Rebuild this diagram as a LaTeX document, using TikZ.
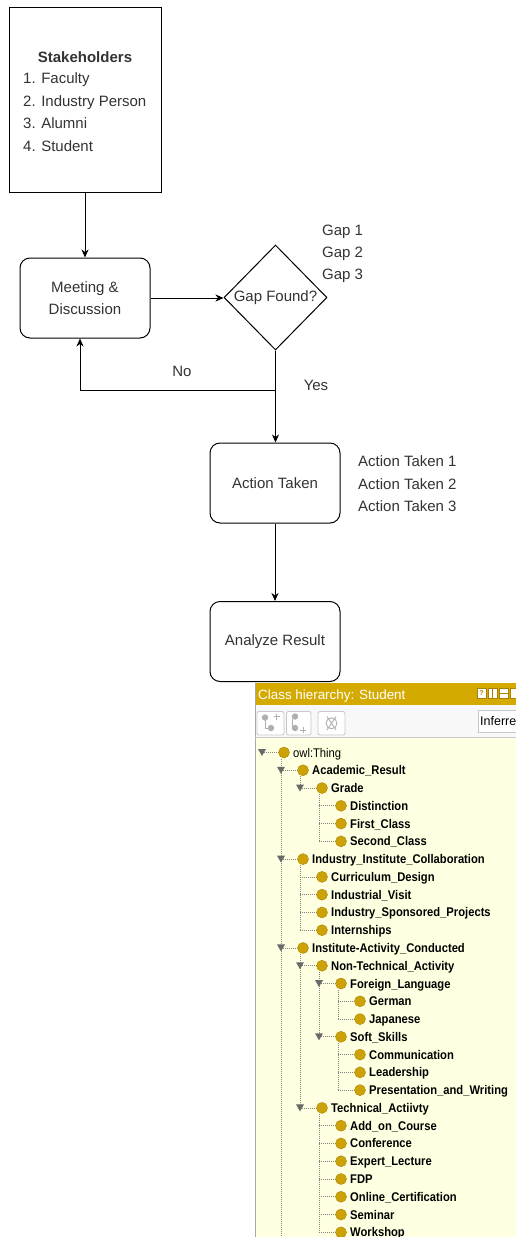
\documentclass[tikz,border=0pt]{standalone}
\usepackage{fontspec}
\setmainfont{Liberation Sans}
\newfontfamily\treefont[FakeStretch=0.89]{Liberation Sans}
\usetikzlibrary{shapes.geometric,arrows.meta}
\definecolor{txt}{RGB}{51,51,51}
\definecolor{hdrgold}{RGB}{212,170,0}
\definecolor{owl}{RGB}{204,162,8}
\definecolor{owldark}{RGB}{170,130,0}
\definecolor{treebg}{RGB}{255,255,225}
\definecolor{toolbg}{RGB}{248,248,248}
\definecolor{dotgrey}{RGB}{130,130,130}
\definecolor{toggrey}{RGB}{105,105,105}
\definecolor{btnborder}{RGB}{200,200,200}
\definecolor{icongrey}{RGB}{175,175,175}
\definecolor{panelborder}{RGB}{170,170,170}
\begin{document}
\begin{tikzpicture}[x=1pt,y=-1pt,
  flowtext/.style={font=\fontsize{15}{22.5}\selectfont, text=txt},
  roundbox/.style={flowtext, draw=black, line width=1pt, rounded corners=10pt,
    minimum width=130pt, minimum height=80pt, align=center, inner sep=0pt},
  sharpbox/.style={draw=black, line width=1pt, minimum width=152pt,
    minimum height=185pt, inner sep=0pt},
  decision/.style={flowtext, diamond, draw=black, line width=1pt,
    minimum width=103pt, minimum height=105pt, inner sep=0pt},
  flowarrow/.style={draw=black, line width=1pt,
    -{Stealth[length=8pt,width=7pt,inset=2.5pt]}},
  sidelbl/.style={flowtext, anchor=base west, inner sep=0pt},
  midlbl/.style={flowtext, anchor=base, inner sep=0pt},
  treedots/.style={draw=dotgrey, line width=0.8pt, dash pattern=on 1pt off 1pt},
  owlball/.style={circle, fill=owl, draw=owldark, line width=0.4pt,
    minimum size=11pt, inner sep=0pt},
  treelbl/.style={font=\treefont\fontsize{12.6}{14}\selectfont\bfseries,
    anchor=base west, inner sep=0pt, text=black},
  toolbtn/.style={draw=btnborder, fill=white, line width=0.8pt, rounded corners=2pt},
  hdricon/.style={draw=owldark, fill=white, line width=0.6pt}
]
\clip (0,0) rectangle (516,1237);
\fill[white] (0,0) rectangle (516,1237);

% ---------------- flowchart ----------------
\node[sharpbox] (stake) at (85,99.5) {};
\node[midlbl] (sttitle) at (85,62.3) {\bfseries Stakeholders};
\node[sidelbl] (st1) at (23,83.3) {1. Faculty};
\node[sidelbl] (st2) at (23,106) {2. Industry Person};
\node[sidelbl] (st3) at (23,128.7) {3. Alumni};
\node[sidelbl] (st4) at (23,151.4) {4. Student};

\node[roundbox] (meet) at (85,298) {Meeting \&\\Discussion};
\node[decision] (gap) at (275.5,297.5) {Gap Found?};
\node[roundbox] (act) at (275,483) {Action Taken};
\node[roundbox] (ana) at (275,641.5) {Analyze Result};

\node[sidelbl] (gap1) at (322,235) {Gap 1};
\node[sidelbl] (gap2) at (322,257) {Gap 2};
\node[sidelbl] (gap3) at (322,279) {Gap 3};

\node[sidelbl] (act1) at (358,466.7) {Action Taken 1};
\node[sidelbl] (act2) at (358,489) {Action Taken 2};
\node[sidelbl] (act3) at (358,511) {Action Taken 3};

\node[midlbl] (nolbl) at (182,376.7) {No};
\node[midlbl] (yeslbl) at (316,390) {Yes};

\draw[flowarrow] (stake.south) -- (meet.north);
\draw[flowarrow] (meet.east) -- (meet.east -| gap.west);
\draw[flowarrow] (gap.south) -- (gap.south |- act.north);
\coordinate (nojoin) at (275.5,390);
\draw[flowarrow] (nojoin) -| ([xshift=-5pt]meet.south);
\draw[flowarrow] (act.south) -- (ana.north);

% ---------------- class hierarchy panel ----------------
\fill[treebg] (255,737) rectangle (516,1237);
\fill[toolbg] (255,705) rectangle (516,737);
\fill[hdrgold] (255,683) rectangle (516,705);
\draw[panelborder, line width=0.8pt] (255.5,683) -- (255.5,1237);
\draw[btnborder, line width=0.6pt] (255,737) -- (516,737);

\node[anchor=base west, inner sep=0pt, text=white,
  font=\fontsize{13.4}{15}\selectfont] (hdr) at (258,699.5) {Class hierarchy: Student};

% header icons
\draw[hdricon] (477,688.5) rectangle (486,698.5);
\node[inner sep=0pt, font=\bfseries\fontsize{7}{8}\selectfont, text=owldark] (helpq) at (481.5,693.5) {?};
\draw[hdricon] (488,688.5) rectangle (497,698.5);
\draw[owldark, line width=1.2pt] (492.5,688.5) -- (492.5,698.5);
\draw[hdricon] (499,688.5) rectangle (508,698.5);
\draw[owldark, line width=1pt] (499,693.5) -- (508,693.5);
\draw[hdricon] (510,688.5) rectangle (519,698.5);

% toolbar buttons
\draw[toolbtn] (257,711.5) rectangle (284,735);
\fill[icongrey] (265,717.5) circle (3.2pt);
\fill[icongrey] (271,728) circle (3.2pt);
\draw[icongrey, line width=1pt] (265,720) -- (265,728) -- (268,728);
\draw[icongrey, line width=1pt] (273.5,716.5) -- (279.5,716.5) (276.5,713.5) -- (276.5,719.5);

\draw[toolbtn] (286.5,711.5) rectangle (311,735);
\fill[icongrey] (295,716.5) circle (3.2pt);
\fill[icongrey] (295,728) circle (3.2pt);
\draw[icongrey, line width=1pt] (292,719) -- (292,728);
\draw[icongrey, line width=1pt] (300,730) -- (306,730) (303,727) -- (303,733);

\draw[toolbtn] (318,711.5) rectangle (345,735);
\draw[icongrey, line width=0.9pt] (331.5,723.3) circle (5.5pt);
\draw[icongrey, line width=0.9pt] (327,716.5) -- (336,730) (336,716.5) -- (327,730);

% inferred box
\draw[btnborder, fill=white, line width=0.8pt] (478,710.5) rectangle (530,732);
\node[anchor=base west, inner sep=0pt, text=black,
  font=\fontsize{12.5}{15}\selectfont] (inferred) at (480,725.5) {Inferred};

% tree vertical guide lines
\draw[treedots] (281,759) -- (281,1237);
\foreach \p/\lv/\c in {1/1/2, 2/2/5, 6/1/10, 11/1/20, 12/2/16, 13/3/15, 16/3/19, 20/2/27}
  \draw[treedots] ({281+19*\lv},{752.5+17.77*\p+6}) -- ({281+19*\lv},{752.5+17.77*\c});

% tree rows
\foreach \lv/\tx/\tg [count=\i from 0] in {
  0/{\mdseries owl:Thing}/1,
  1/Academic\_Result/1,
  2/Grade/1,
  3/Distinction/0,
  3/First\_Class/0,
  3/Second\_Class/0,
  1/Industry\_Institute\_Collaboration/1,
  2/Curriculum\_Design/0,
  2/Industrial\_Visit/0,
  2/Industry\_Sponsored\_Projects/0,
  2/Internships/0,
  1/Institute-Activity\_Conducted/1,
  2/Non-Technical\_Activity/1,
  3/Foreign\_Language/1,
  4/German/0,
  4/Japanese/0,
  3/Soft\_Skills/1,
  4/Communication/0,
  4/Leadership/0,
  4/Presentation\_and\_Writing/0,
  2/Technical\_Actiivty/1,
  3/Add\_on\_Course/0,
  3/Conference/0,
  3/Expert\_Lecture/0,
  3/FDP/0,
  3/Online\_Certification/0,
  3/Seminar/0,
  3/Workshop/0}
{
  \pgfmathsetmacro{\yy}{752.5+17.77*\i}
  \pgfmathsetmacro{\xt}{262+19*\lv}
  \pgfmathsetmacro{\xc}{284+19*\lv}
  \draw[treedots] (\xt,\yy) -- (\xc-5.5,\yy);
  \ifnum\tg=1
    \fill[toggrey] (\xt-4,\yy-3.5) -- (\xt+4,\yy-3.5) -- (\xt,\yy+3.5) -- cycle;
  \fi
  \node[owlball] (c\i) at (\xc,\yy) {};
  \node[treelbl] (t\i) at (\xc+9,\yy+4.5) {\tx};
}
\end{tikzpicture}
\end{document}
